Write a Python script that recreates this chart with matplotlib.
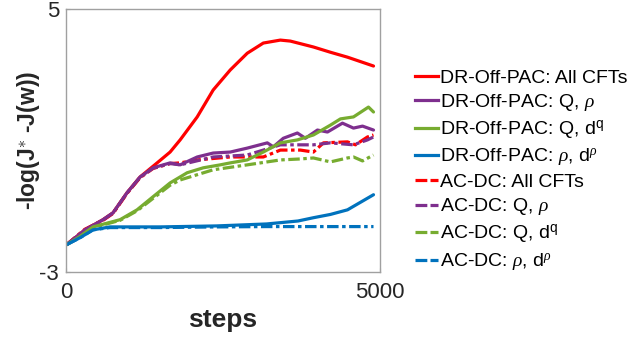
import matplotlib
matplotlib.use("Agg")
import matplotlib.pyplot as plt

plt.rcParams['font.family'] = ['Liberation Sans', 'DejaVu Sans']
plt.rcParams['mathtext.fontset'] = 'custom'
plt.rcParams['mathtext.it'] = 'Liberation Serif:italic'
plt.rcParams['mathtext.rm'] = 'Liberation Sans'
plt.rcParams['mathtext.bf'] = 'Liberation Sans:bold'
plt.rcParams['axes.unicode_minus'] = False

# Data (steps, -log(J*-J(w)))
dr_all_x = [11, 303, 591, 751, 974, 1182, 1454, 1661, 1821, 2093, 2348, 2620, 2891, 3147, 3419, 3578, 3946, 4217, 4489, 4904]
dr_all_y = [-2.17, -1.72, -1.41, -1.20, -0.59, -0.11, 0.32, 0.65, 1.02, 1.72, 2.54, 3.15, 3.66, 3.97, 4.06, 4.03, 3.85, 3.69, 3.54, 3.27]

dr_qrho_x = [11, 303, 591, 751, 974, 1182, 1390, 1661, 1821, 2093, 2348, 2620, 2891, 3211, 3307, 3466, 3690, 3818, 4010, 4170, 4409, 4585, 4729, 4904]
dr_qrho_y = [-2.17, -1.72, -1.41, -1.20, -0.59, -0.11, 0.17, 0.32, 0.26, 0.50, 0.62, 0.65, 0.77, 0.93, 0.81, 1.07, 1.23, 1.07, 1.32, 1.26, 1.53, 1.38, 1.44, 1.32]

dr_qd_x = [11, 224, 431, 863, 1134, 1390, 1661, 1933, 2189, 2460, 2620, 2891, 3147, 3419, 3690, 3946, 4217, 4377, 4585, 4824, 4904]
dr_qd_y = [-2.17, -1.92, -1.63, -1.41, -1.11, -0.71, -0.29, 0.02, 0.17, 0.26, 0.32, 0.41, 0.65, 0.93, 1.02, 1.17, 1.47, 1.66, 1.72, 2.02, 1.87]

dr_rhod_x = [11, 224, 431, 703, 1500, 2400, 3200, 3700, 3946, 4217, 4489, 4904]
dr_rhod_y = [-2.17, -1.96, -1.72, -1.63, -1.63, -1.60, -1.54, -1.45, -1.35, -1.25, -1.11, -0.65]

ac_all_x = [11, 303, 591, 751, 974, 1182, 1390, 1661, 1821, 2093, 2620, 3147, 3419, 3738, 3946, 4106, 4489, 4617, 4808, 4904]
ac_all_y = [-2.17, -1.70, -1.43, -1.22, -0.61, -0.13, 0.15, 0.30, 0.32, 0.41, 0.50, 0.50, 0.71, 0.71, 0.65, 0.93, 0.96, 0.87, 1.11, 1.17]

ac_qrho_x = [11, 303, 591, 751, 974, 1182, 1390, 1661, 1821, 2348, 2891, 3419, 3946, 4217, 4585, 4808, 4904]
ac_qrho_y = [-2.17, -1.72, -1.42, -1.21, -0.60, -0.12, 0.16, 0.30, 0.26, 0.50, 0.56, 0.87, 0.87, 0.93, 0.87, 1.02, 1.11]

ac_qd_x = [11, 224, 431, 863, 1134, 1390, 1661, 1821, 2348, 2891, 3419, 3738, 3946, 4217, 4489, 4585, 4729, 4904]
ac_qd_y = [-2.17, -1.92, -1.65, -1.43, -1.14, -0.76, -0.36, -0.20, 0.11, 0.26, 0.41, 0.44, 0.47, 0.35, 0.47, 0.50, 0.38, 0.56]

ac_rhod_x = [11, 224, 431, 703, 1500, 2400, 3200, 4000, 4904]
ac_rhod_y = [-2.17, -1.96, -1.72, -1.65, -1.65, -1.63, -1.62, -1.62, -1.62]

labels = [
    'DR-Off-PAC: All CFTs',
    r'DR-Off-PAC: Q, $\rho$',
    r'DR-Off-PAC: Q, d$^\mathrm{q}$',
    r'DR-Off-PAC: $\rho$, d$^{\rho}$',
    'AC-DC: All CFTs',
    r'AC-DC: Q, $\rho$',
    r'AC-DC: Q, d$^\mathrm{q}$',
    r'AC-DC: $\rho$, d$^{\rho}$',
]
colors = ['#ff0000', '#7e2f8e', '#77ac30', '#0072bd']

series = [
    (dr_all_x, dr_all_y), (dr_qrho_x, dr_qrho_y), (dr_qd_x, dr_qd_y), (dr_rhod_x, dr_rhod_y),
    (ac_all_x, ac_all_y), (ac_qrho_x, ac_qrho_y), (ac_qd_x, ac_qd_y), (ac_rhod_x, ac_rhod_y),
]

fig = plt.figure(figsize=(6.4, 3.42), dpi=100)
ax = fig.add_axes([0.103, 0.205, 0.490, 0.768])

LW = 2.3
order = [4, 5, 6, 7, 0, 1, 2, 3]
for i in order:
    x, y = series[i]
    c = colors[i % 4]
    if i < 4:
        ax.plot(x, y, color=c, lw=LW, solid_joinstyle='round', solid_capstyle='round')
    else:
        ax.plot(x, y, color=c, lw=LW, linestyle=(0, (3.6, 1.1, 1.1, 1.1)))

leg_handles = []
for i in range(8):
    c = colors[i % 4]
    if i < 4:
        h, = ax.plot([], [], color=c, lw=LW)
    else:
        h, = ax.plot([], [], color=c, lw=LW, linestyle=(0, (3.7, 1.0)))
    leg_handles.append(h)

ax.set_xlim(0, 5000)
ax.set_ylim(-3, 5)
ax.set_xticks([0, 5000])
ax.set_yticks([-3, 5])
ax.tick_params(direction='in', length=3, colors='#a0a0a0', labelcolor='#262626', labelsize=16)
ax.tick_params(axis='x', pad=7)
ax.tick_params(axis='y', pad=5)
for s in ax.spines.values():
    s.set_color('#a0a0a0')
    s.set_linewidth(1.0)

ax.set_xlabel('steps', fontsize=19, fontweight='bold', color='#262626', labelpad=4)
ax.set_ylabel(r'-log(J$^{\ast}$ -J(w))', fontsize=16.5, fontweight='bold', color='#262626', labelpad=-2)

leg = fig.legend(leg_handles, labels, loc='center left', bbox_to_anchor=(0.649, 0.50),
                 frameon=False, fontsize=14, handlelength=1.16, handletextpad=0.12,
                 labelspacing=0.27, borderaxespad=0, borderpad=0)
for t in leg.get_texts():
    t.set_color('#000000')

fig.savefig('out.png', dpi=100)
